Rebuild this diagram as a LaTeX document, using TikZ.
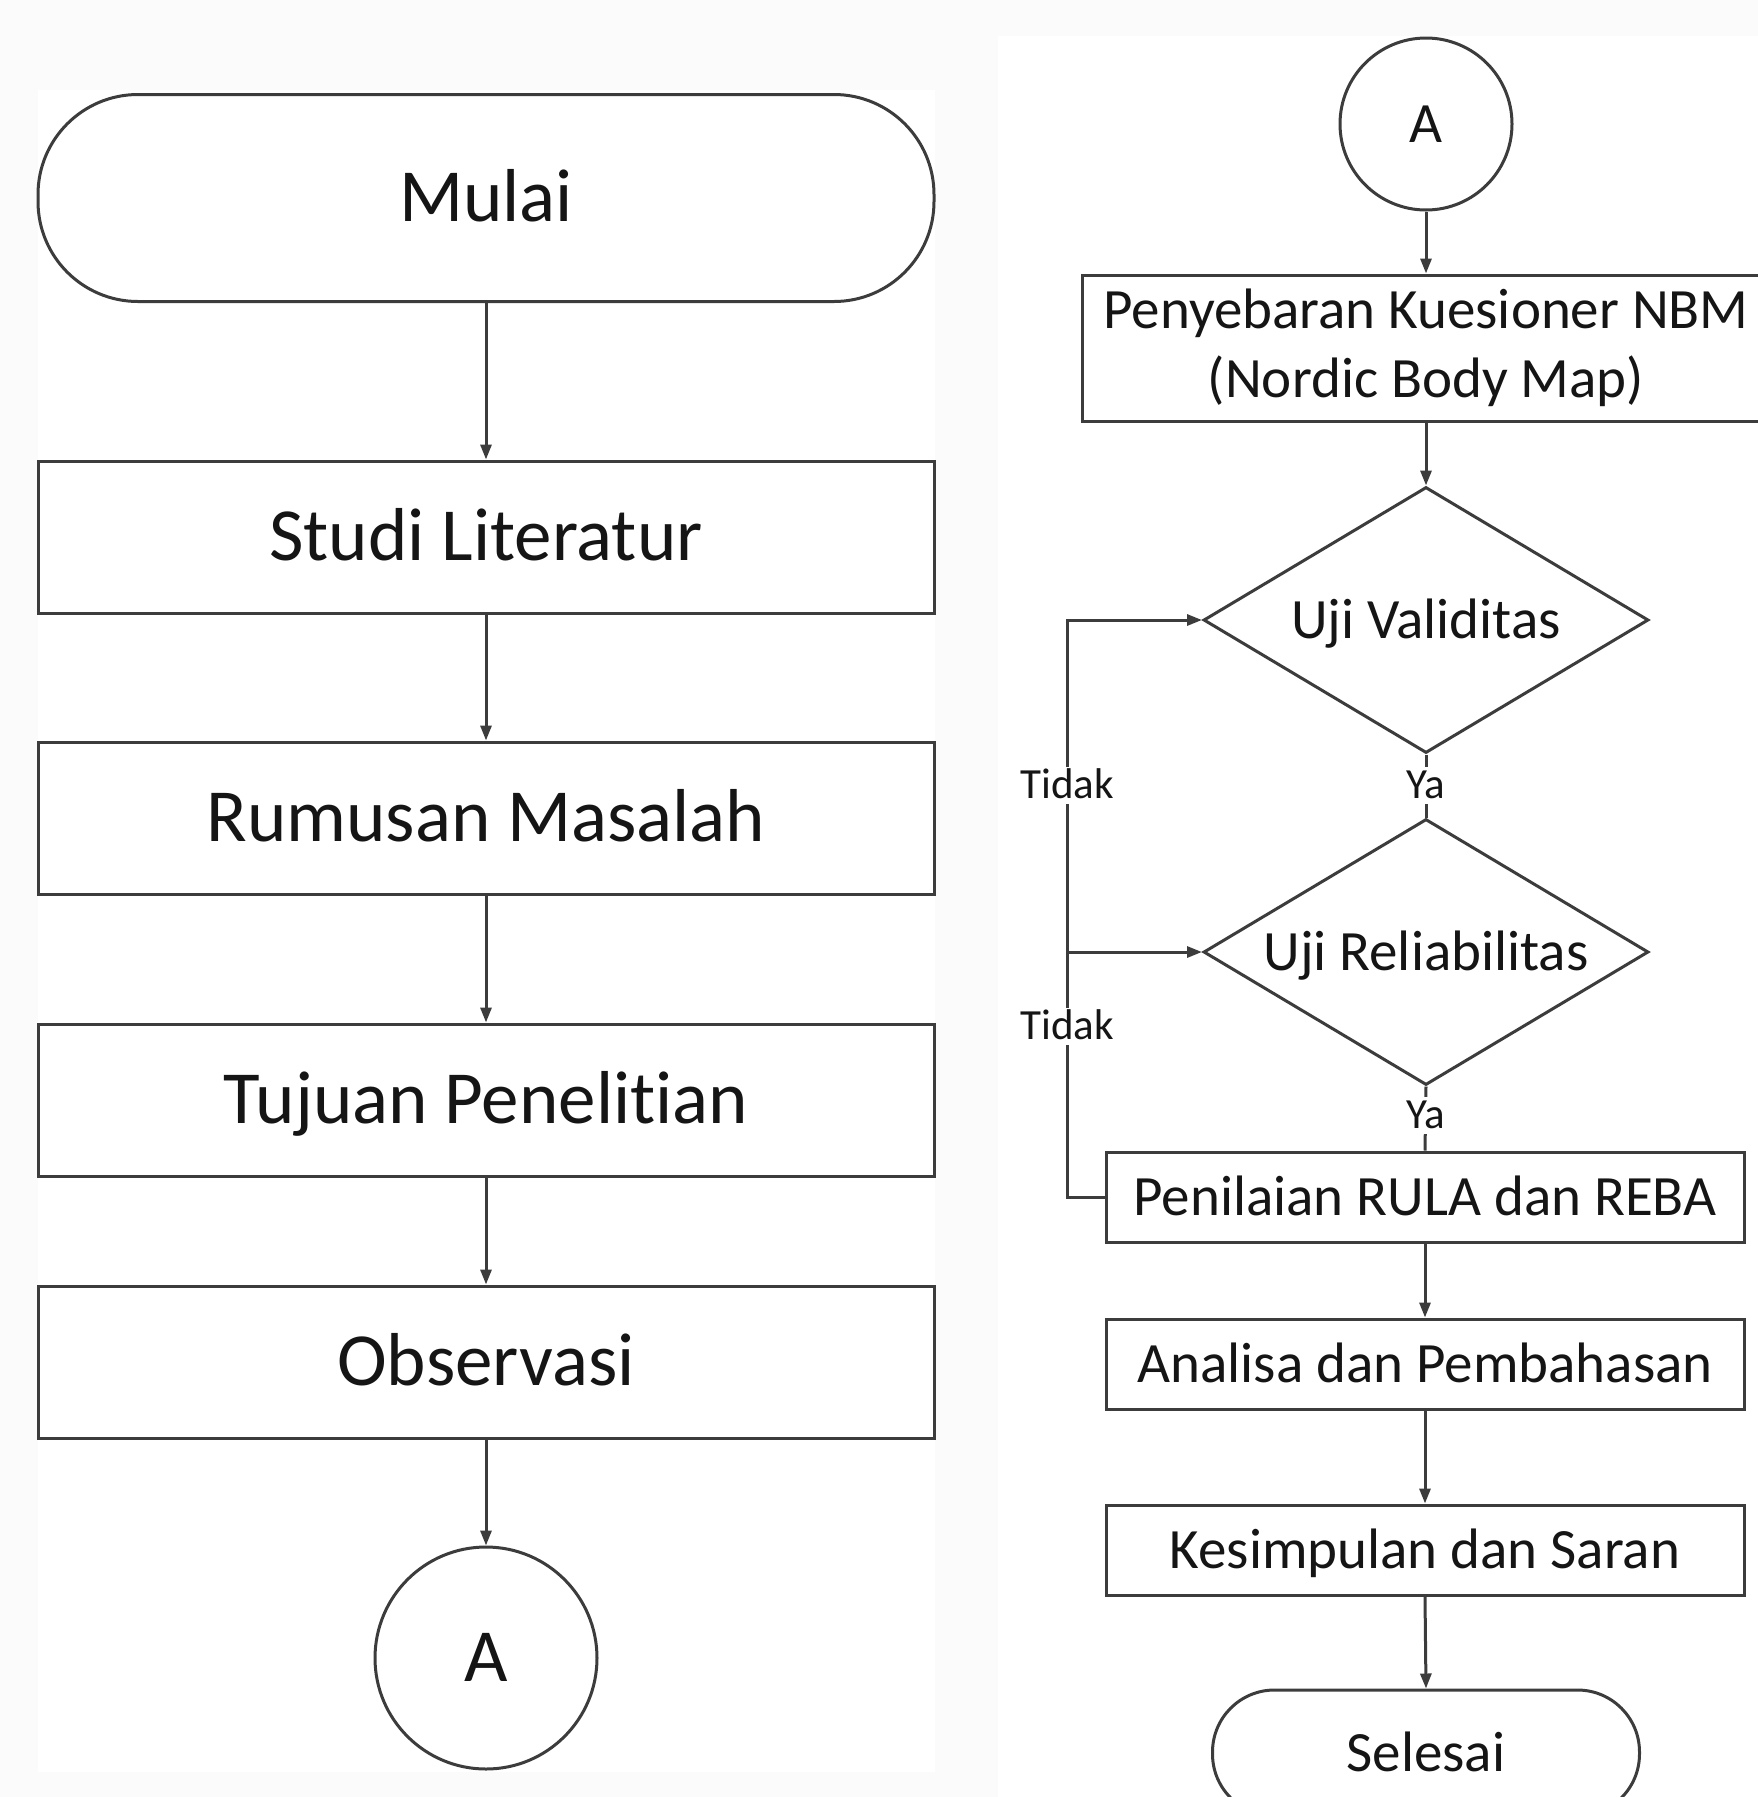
\documentclass[tikz,border=0pt]{standalone}
\usepackage{fontspec}
\setmainfont{Carlito}[Ligatures=NoCommon]
\usetikzlibrary{shapes.geometric,arrows.meta}
\definecolor{ln}{HTML}{3C3C3C}
\definecolor{tx}{HTML}{151515}
\definecolor{bg}{HTML}{FBFBFB}
\begin{document}
\begin{tikzpicture}[x=1pt,y=-1pt,
  conn/.style={draw=ln,line width=3pt,-{Triangle[length=15pt,width=11pt]}},
  plain/.style={draw=ln,line width=3pt},
  lbox/.style={draw=ln,line width=3pt,fill=white,minimum width=896pt,minimum height=152pt,inner sep=0pt,text=tx,
    font=\fontsize{75}{90}\selectfont,text height=47pt,text depth=0pt},
  lterm/.style={lbox,minimum height=207pt,rounded corners=100pt},
  lcirc/.style={draw=ln,line width=3pt,fill=white,circle,inner sep=0pt,text=tx,
    font=\fontsize{75}{90}\selectfont,text height=47pt,text depth=0pt},
  rbox/.style={draw=ln,line width=3pt,fill=white,minimum width=638pt,minimum height=90pt,inner sep=0pt,text=tx,
    font=\fontsize{57}{69}\selectfont,text height=36pt,text depth=0pt},
  rdia/.style={draw=ln,line width=3pt,fill=white,diamond,aspect=1.67,minimum width=445pt,minimum height=266pt,inner sep=0pt,text=tx,
    font=\fontsize{57}{69}\selectfont,text height=36pt,text depth=0pt},
  lab/.style={fill=white,inner sep=5pt,text=tx,font=\fontsize{43}{50}\selectfont,text height=27pt,text depth=0pt}
]
\fill[bg] (0,0) rectangle (1758,1797);
\useasboundingbox (0,0) rectangle (1758,1797);
\fill[white] (38,90) rectangle (935,1772);
\fill[white] (998,36) rectangle (1758,1797);

% left column
\node[lterm] (mulai) at (486,198) {Mulai};
\node[lbox] (studi) at (486,537) {Studi Literatur};
\node[lbox] (rumusan) at (486,818) {Rumusan Masalah};
\node[lbox] (tujuan) at (486,1100) {Tujuan Penelitian};
\node[lbox] (obs) at (486,1362) {Observasi};
\node[lcirc,minimum size=222pt] (a1) at (486,1658) {A};

\draw[conn] (mulai.south) -- (studi.north);
\draw[conn] (studi.south) -- (rumusan.north);
\draw[conn] (rumusan.south) -- (tujuan.north);
\draw[conn] (tujuan.south) -- (obs.north);
\draw[conn] (obs.south) -- (a1.north);

% right column
\node[lcirc,minimum size=172pt,font=\fontsize{57}{69}\selectfont,text height=36pt] (a2) at (1426,124) {A};
\node[draw=ln,line width=3pt,fill=white,minimum width=687pt,minimum height=146pt,inner sep=0pt,text=tx,
  font=\fontsize{57}{69}\selectfont,align=center] (nbm) at (1426,348)
  {Penyebaran Kuesioner NBM\\(Nordic Body Map)};
\node[rdia] (val) at (1426,620) {Uji Validitas};
\node[rdia] (rel) at (1426,952) {Uji Reliabilitas};
\node[rbox] (pen) at (1425,1197) {Penilaian RULA dan REBA};
\node[rbox] (ana) at (1425,1364) {Analisa dan Pembahasan};
\node[rbox] (kes) at (1425,1550) {Kesimpulan dan Saran};
\node[rbox,minimum width=427pt,minimum height=126pt,rounded corners=62pt] (sel) at (1426,1753) {Selesai};

\coordinate (jt) at (1067,620);
\coordinate (jm) at (1067,952);

\draw[conn] (a2.south) -- (nbm.north);
\draw[conn] (nbm.south) -- (val.north);
\draw[plain] (val.south) -- (rel.north);
\draw[plain] (rel.south) -- (pen.north);
\draw[conn] (pen.south) -- (ana.north);
\draw[conn] (ana.south) -- (kes.north);
\draw[conn] (kes.south) -- (sel.north);
\draw[conn] (pen.west) -- (pen.west -| jt) -- (jt) -- (val.west);
\draw[conn] (jm) -- (rel.west);

\node[lab] (ya1) at (1426,785) {Ya};
\node[lab] (ya2) at (1426,1115) {Ya};
\node[lab] (td1) at (1067,785) {Tidak};
\node[lab] (td2) at (1067,1026) {Tidak};
\end{tikzpicture}
\end{document}
